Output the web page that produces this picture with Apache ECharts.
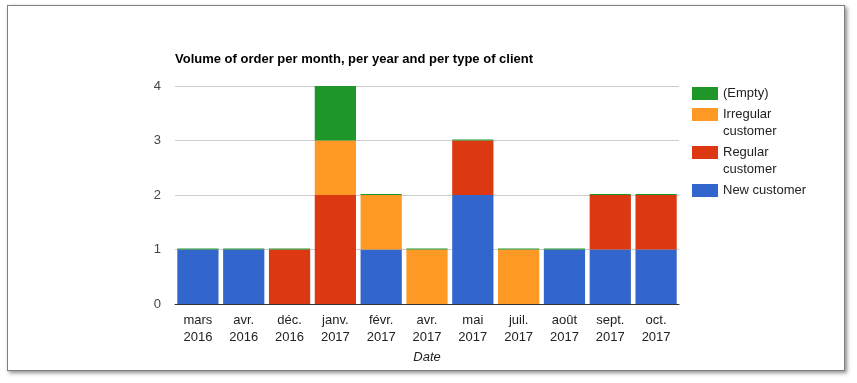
<!DOCTYPE html>
<html>
<head>
<meta charset="utf-8">
<script src="https://cdn.jsdelivr.net/npm/echarts@6/dist/echarts.min.js"></script>
<style>
  html, body { margin: 0; padding: 0; background: #fff; }
  #frame { position: absolute; left: 7px; top: 5px; width: 836px; height: 364px; border: 1px solid #808080; box-shadow: 2px 2px 4px rgba(0,0,0,0.45); background: #fff; }
  #chart { position: absolute; left: 0; top: 0; width: 857px; height: 383px; }
</style>
</head>
<body>
<div id="frame"></div>
<div id="chart"></div>
<script>
const categories = ['mars\n2016', 'avr.\n2016', 'déc.\n2016', 'janv.\n2017', 'févr.\n2017', 'avr.\n2017', 'mai\n2017', 'juil.\n2017', 'août\n2017', 'sept.\n2017', 'oct.\n2017'];
const newCustomer       = [1, 1, 0, 0, 1, 0, 2, 0, 1, 1, 1];
const regularCustomer   = [0, 0, 1, 2, 0, 0, 1, 0, 0, 1, 1];
const irregularCustomer = [0, 0, 0, 1, 1, 1, 0, 1, 0, 0, 0];
const emptyType         = [0, 0, 0, 1, 0, 0, 0, 0, 0, 0, 0];
const yTicks = [0, 1, 2, 3, 4];
const titleText = 'Volume of order per month, per year and per type of client';
const xAxisTitle = 'Date';
const seriesNames = ['New customer', 'Regular customer', 'Irregular customer', '(Empty)'];
const legendLabels = { '(Empty)': '(Empty)', 'Irregular customer': '\nIrregular\ncustomer', 'Regular customer': '\nRegular\ncustomer', 'New customer': 'New customer' };

const FONT = '"Liberation Sans", Arial, sans-serif';
const colors = { 'New customer': '#3366cc', 'Regular customer': '#dc3912', 'Irregular customer': '#ff9926', '(Empty)': '#1e9628' };
const seriesData = { 'New customer': newCustomer, 'Regular customer': regularCustomer, 'Irregular customer': irregularCustomer, '(Empty)': emptyType };

function makeLegend(name, top) {
  return {
    show: true, orient: 'vertical', left: 692, top: top, padding: 0,
    itemWidth: 26, itemHeight: 13, icon: 'rect', selectedMode: false,
    formatter: n => legendLabels[n],
    textStyle: { fontFamily: FONT, fontSize: 13, color: '#222', lineHeight: 17 },
    data: [name]
  };
}

const chart = echarts.init(document.getElementById('chart'), null, { renderer: 'canvas' });
chart.setOption({
  animation: false,
  backgroundColor: 'transparent',
  title: { text: titleText, left: 175, top: 53, padding: 0, textStyle: { fontFamily: FONT, fontSize: 13, fontWeight: 'bold', color: '#000' } },
  legend: [
    makeLegend('(Empty)', 85),
    makeLegend('Irregular customer', 89),
    makeLegend('Regular customer', 127),
    makeLegend('New customer', 182)
  ],
  grid: { left: 175, right: 178, top: 86, bottom: 79, containLabel: false },
  xAxis: {
    type: 'category', data: categories,
    axisLine: { show: true, lineStyle: { color: '#333', width: 1 } },
    axisTick: { show: false },
    axisLabel: { fontFamily: FONT, fontSize: 13, color: '#222', lineHeight: 17, margin: 8, interval: 0 },
    name: xAxisTitle, nameLocation: 'middle', nameGap: 46,
    nameTextStyle: { fontFamily: FONT, fontSize: 13, fontStyle: 'italic', color: '#222' }
  },
  yAxis: {
    type: 'value', min: yTicks[0], max: yTicks[yTicks.length - 1], interval: 1,
    axisLine: { show: false }, axisTick: { show: false },
    splitLine: { lineStyle: { color: '#cccccc', width: 1 } },
    axisLabel: { fontFamily: FONT, fontSize: 13, color: '#444', margin: 14 }
  },
  series: seriesNames.map(n => ({
    name: n, type: 'bar', stack: 'total', data: seriesData[n],
    barCategoryGap: '10%', barMinHeight: n === '(Empty)' ? 1 : 0,
    itemStyle: { color: colors[n] }
  }))
});
</script>
</body>
</html>
